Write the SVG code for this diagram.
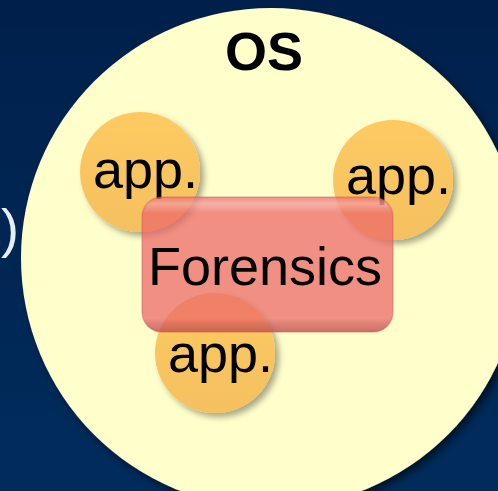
<svg xmlns="http://www.w3.org/2000/svg" width="498" height="491" viewBox="0 0 498 491">
  <defs>
    <linearGradient id="bg" x1="0" y1="0" x2="0" y2="1">
      <stop offset="0" stop-color="#00204b"/>
      <stop offset="1" stop-color="#002c5c"/>
    </linearGradient>
    <linearGradient id="appFill" x1="0" y1="0" x2="0" y2="1">
      <stop offset="0" stop-color="#fdca62"/>
      <stop offset="1" stop-color="#f5c060"/>
    </linearGradient>
    <linearGradient id="bevel" x1="0" y1="0" x2="0" y2="1">
      <stop offset="0" stop-color="#ffffff" stop-opacity="0.0"/>
      <stop offset="0.05" stop-color="#ffffff" stop-opacity="0.3"/>
      <stop offset="0.12" stop-color="#ffffff" stop-opacity="0.0"/>
      <stop offset="0.9" stop-color="#000000" stop-opacity="0.0"/>
      <stop offset="1" stop-color="#701010" stop-opacity="0.25"/>
    </linearGradient>
    <filter id="shadowBig" x="-20%" y="-20%" width="140%" height="140%">
      <feDropShadow dx="4" dy="4" stdDeviation="4" flood-color="#000000" flood-opacity="0.6"/>
    </filter>
    <filter id="shadowApp" x="-30%" y="-30%" width="160%" height="160%">
      <feDropShadow dx="4" dy="4" stdDeviation="3" flood-color="#000000" flood-opacity="0.35"/>
    </filter>
  </defs>
  <style>
    .lbl { font-family: "Liberation Sans", Arial, sans-serif; font-size: 54px; fill: #000000; }
    .app { fill: url(#appFill); filter: url(#shadowApp); }
  </style>
  <rect x="0" y="0" width="498" height="491" fill="url(#bg)"/>
  <text x="1" y="247" style="font-family: 'Liberation Sans', Arial, sans-serif; font-size: 54px; fill: #e6edf5;">)</text>

  <g id="os">
    <circle cx="271" cy="258" r="250" fill="#ffffcc" filter="url(#shadowBig)"/>
    <text class="lbl" x="225" y="70" font-weight="bold">OS</text>
  </g>

  <g id="app1">
    <circle class="app" cx="140" cy="172" r="60"/>
    <text class="lbl" x="93" y="188">app.</text>
  </g>
  <g id="app2">
    <circle class="app" cx="393" cy="180" r="60"/>
    <text class="lbl" x="346" y="194">app.</text>
  </g>
  <g id="app3">
    <circle class="app" cx="215" cy="353" r="60"/>
    <text class="lbl" x="168" y="372">app.</text>
  </g>

  <g id="forensics">
    <rect x="142" y="197" width="251" height="135" rx="20" fill="#ec6868" fill-opacity="0.74"/>
    <rect x="142" y="197" width="251" height="135" rx="20" fill="url(#bevel)" stroke="#c85050" stroke-opacity="0.35" stroke-width="1.5"/>
    <text class="lbl" x="148" y="285">Forensics</text>
  </g>
</svg>
